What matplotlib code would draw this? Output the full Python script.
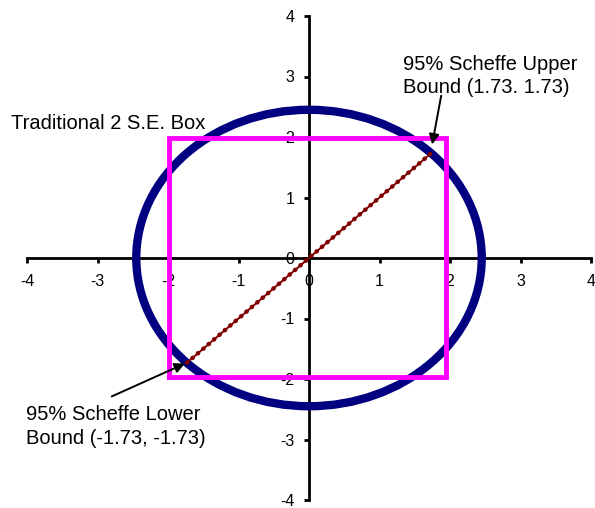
import matplotlib
matplotlib.use("Agg")
import matplotlib.pyplot as plt
from matplotlib.patches import Ellipse

plt.rcParams['font.family'] = ['Liberation Sans', 'DejaVu Sans']

# ---- data ----
axis_ticks = [-4, -3, -2, -1, 0, 1, 2, 3, 4]
circle_radius = 2.45            # 95% Scheffe confidence region (circle)
box_x = [-1.98, 1.94, 1.94, -1.98, -1.98]      # traditional 2 S.E. box
box_y = [-1.97, -1.97, 1.98, 1.98, -1.97]
scheffe_x = [-1.73, 1.73]       # Scheffe lower / upper bound
scheffe_y = [-1.73, 1.73]

fig = plt.figure(figsize=(5.95, 5.08), dpi=100)
ax = fig.add_axes([27/595, 8/508, 564/595, 484/508])
ax.set_xlim(-4, 4)
ax.set_ylim(-4, 4)

for side in ['top', 'right']:
    ax.spines[side].set_visible(False)
for side in ['left', 'bottom']:
    ax.spines[side].set_position(('data', 0))
    ax.spines[side].set_linewidth(2)
    ax.spines[side].set_zorder(1)

ax.set_xticks(axis_ticks)
ax.set_yticks(axis_ticks)
ax.set_xticklabels([str(t) for t in axis_ticks])
ax.set_yticklabels([str(t) for t in axis_ticks])
ax.tick_params(axis='both', direction='out', length=3.5, width=2, labelsize=11.5, color='black')
ax.tick_params(axis='x', pad=8)
ax.tick_params(axis='y', pad=7)

# circle
circ = Ellipse((0, 0), 2*circle_radius, 2*circle_radius, fill=False,
               edgecolor='#000080', lw=6.0, zorder=3, clip_on=False)
ax.add_patch(circ)

# box
ax.plot(box_x, box_y, color='#FF00FF', lw=3.5, zorder=4, clip_on=False,
        solid_joinstyle='miter')

# Scheffe diagonal
ax.plot(scheffe_x, scheffe_y, color='#800000', lw=1.4, zorder=5, clip_on=False)
ax.plot(scheffe_x, scheffe_y, color='#800000', lw=3.2, zorder=5, clip_on=False,
        linestyle=(0, (0.1, 1.5)), dash_capstyle='round')

# texts
fs = 14.5
ax.text(-4.22, 2.14, 'Traditional 2 S.E. Box', fontsize=fs, va='baseline', ha='left')
ax.text(1.335, 3.36, '95% Scheffe Upper\nBound (1.73. 1.73)', fontsize=fs,
        va='top', ha='left', linespacing=1.3)
ax.text(-4.02, -2.43, '95% Scheffe Lower\nBound (-1.73, -1.73)', fontsize=fs,
        va='top', ha='left', linespacing=1.3)

arrow = dict(arrowstyle='-|>', color='black', lw=1.4, mutation_scale=15,
             shrinkA=0, shrinkB=0)
ax.annotate('', xy=(1.747, 1.877), xytext=(1.875, 2.683), arrowprops=arrow,
            zorder=6)
ax.annotate('', xy=(-1.761, -1.745), xytext=(-2.798, -2.288), arrowprops=arrow,
            zorder=6)

fig.savefig('out.png', dpi=100)
